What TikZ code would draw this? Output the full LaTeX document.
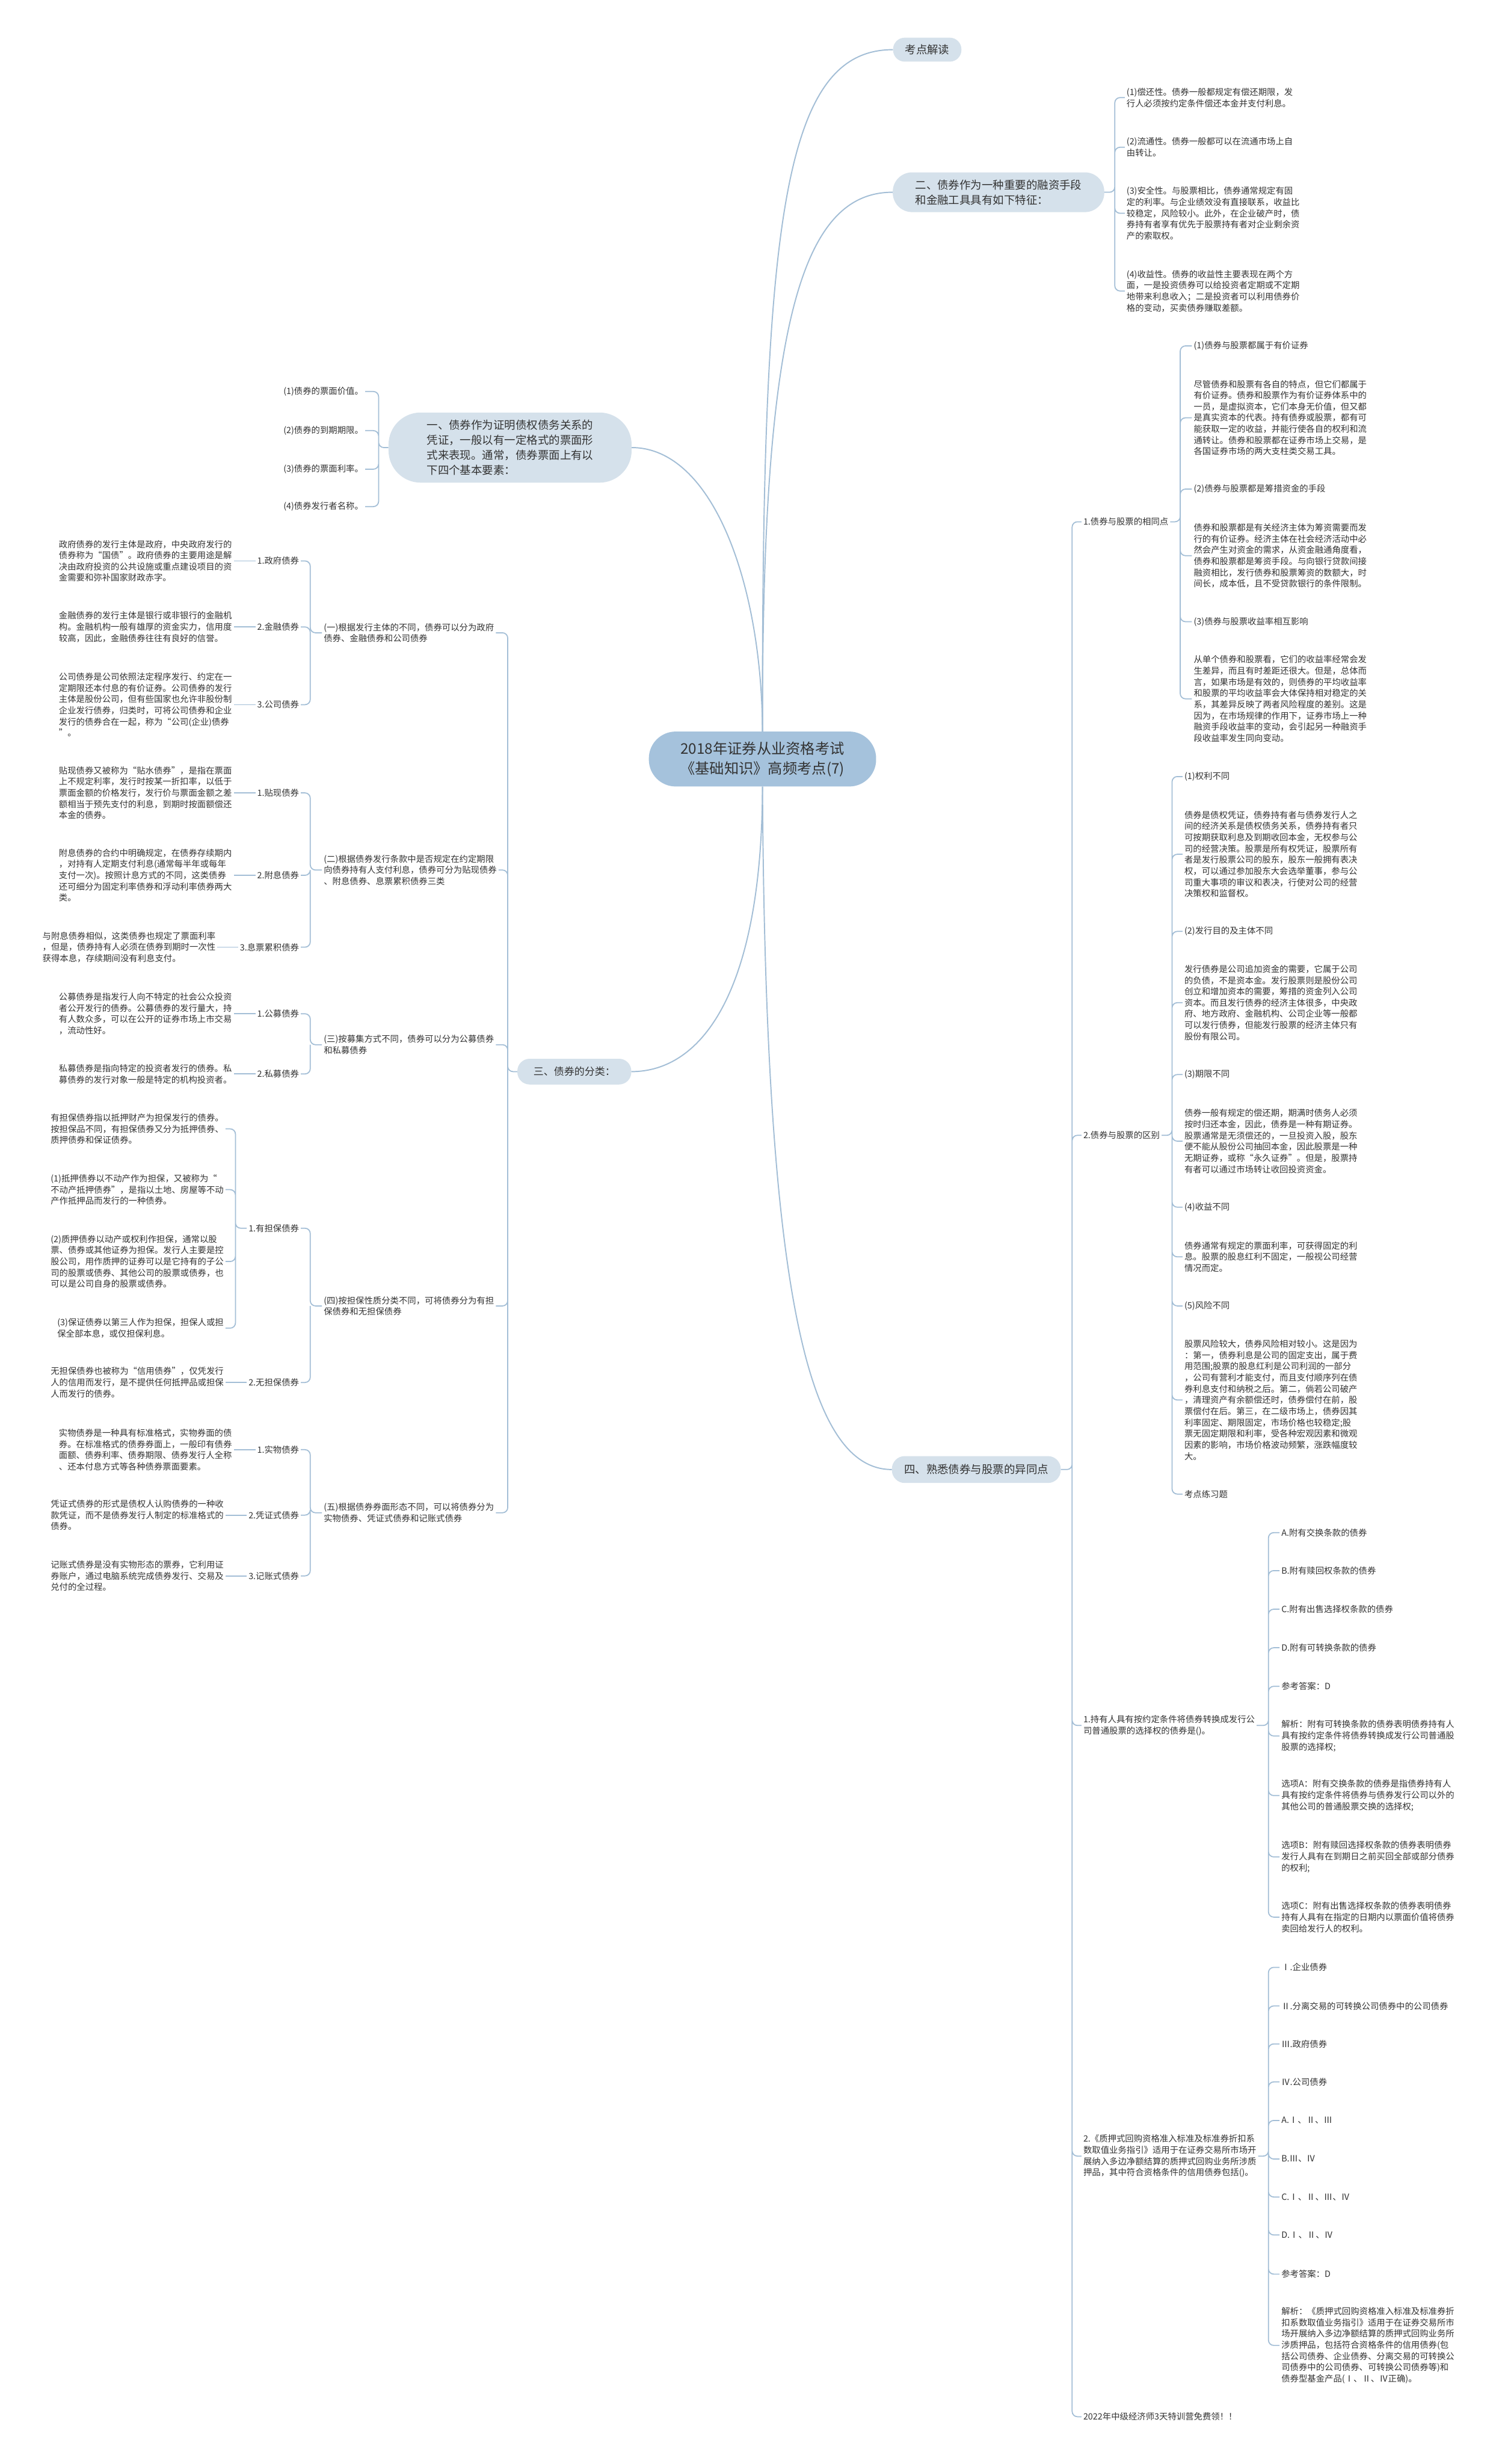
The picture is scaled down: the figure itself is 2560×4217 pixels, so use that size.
\documentclass[tikz,border=0pt]{standalone}
\usepackage{fontspec}
\setmainfont{Noto Sans CJK SC}

\definecolor{linec}{HTML}{A3BED6}
\definecolor{rootc}{HTML}{A5C2DC}
\definecolor{topicc}{HTML}{D5E1EB}
\definecolor{txtc}{HTML}{333333}

\newcommand{\ftxt}{\fontsize{14.8}{19.2}\selectfont}
\newcommand{\ftopic}{\fontsize{19}{26}\selectfont}
\newcommand{\froot}{\fontsize{25}{34}\selectfont}

\begin{document}
\begin{tikzpicture}[x=1pt, y=-1pt,
    every node/.style={text=txtc, inner sep=3pt},
    link/.style={draw=linec, line width=1.8pt, rounded corners=9pt},
    branch/.style={draw=linec, line width=2pt},
    rtext/.style={font=\ftxt, align=left, anchor=west},
    ltext/.style={font=\ftxt, align=left, anchor=east},
    topic/.style={fill=topicc, font=\ftopic, align=left}]

    \fill[white] (0,0) rectangle (2560,4217);
    \useasboundingbox (0,0) rectangle (2560,4217);

    \node[fill=rootc, font=\froot, align=center, minimum width=389, minimum height=94, rounded corners=46] (root) at (1305,1299) {2018年证券从业资格考试\\《基础知识》高频考点(7)};

    \node[topic, minimum width=117, minimum height=41, rounded corners=20] (kd) at (1587,85) {考点解读};
    \node[topic, minimum width=362, minimum height=68, rounded corners=33] (er) at (1709,329) {二、债券作为一种重要的融资手段\\和金融工具具有如下特征：};
    \node[topic, minimum width=416, minimum height=120, rounded corners=55] (yi) at (873,766) {一、债券作为证明债权债务关系的\\凭证，一般以有一定格式的票面形\\式来表现。通常，债券票面上有以\\下四个基本要素：};
    \node[topic, font=\fontsize{17.5}{22}\selectfont, minimum width=195, minimum height=44, rounded corners=21] (san) at (983,1834) {三、债券的分类：};
    \node[topic, minimum width=289, minimum height=46, rounded corners=22] (si) at (1671,2515) {四、熟悉债券与股票的异同点};

    \draw[branch] (root.north) .. controls (1304,380) and (1340,85) .. (kd.west);
    \draw[branch] (root.north) .. controls (1304,560) and (1370,329) .. (er.west);
    \draw[branch] (root.north) .. controls (1304,1000) and (1220,766) .. (yi.east);
    \draw[branch] (root.south) .. controls (1304,1700) and (1200,1834) .. (san.east);
    \draw[branch] (root.south) .. controls (1310,2200) and (1380,2515) .. (si.west);

    % second topic
    \node[rtext] (er1) at (1925,167) {(1)偿还性。债券一般都规定有偿还期限，发\\行人必须按约定条件偿还本金并支付利息。};
    \node[rtext] (er2) at (1925,252) {(2)流通性。债券一般都可以在流通市场上自\\由转让。};
    \node[rtext] (er3) at (1925,365) {(3)安全性。与股票相比，债券通常规定有固\\定的利率。与企业绩效没有直接联系，收益比\\较稳定，风险较小。此外，在企业破产时，债\\券持有者享有优先于股票持有者对企业剩余资\\产的索取权。};
    \node[rtext] (er4) at (1925,498) {(4)收益性。债券的收益性主要表现在两个方\\面，一是投资债券可以给投资者定期或不定期\\地带来利息收入；二是投资者可以利用债券价\\格的变动，买卖债券赚取差额。};
    \coordinate (er-sp) at (1908,329);
    \draw[link] (er.east) -- (er-sp) |- (er1.west) (er-sp) |- (er2.west) (er-sp) |- (er3.west) (er-sp) |- (er4.west);

    % fourth topic
    \node[rtext] (s1) at (1851,893) {1.债券与股票的相同点};
    \node[rtext] (s2) at (1851,1943) {2.债券与股票的区别};
    \node[rtext] (s3) at (1851,2953) {1.持有人具有按约定条件将债券转换成发行公\\司普通股票的选择权的债券是()。};
    \node[rtext] (s4) at (1851,3690) {2.《质押式回购资格准入标准及标准券折扣系\\数取值业务指引》适用于在证券交易所市场开\\展纳入多边净额结算的质押式回购业务所涉质\\押品，其中符合资格条件的信用债券包括()。};
    \node[rtext] (s5) at (1851,4136) {2022年中级经济师3天特训营免费领！！};
    \coordinate (si-sp) at (1835,2515);
    \draw[link] (si.east) -- (si-sp) |- (s1.west) (si-sp) |- (s2.west) (si-sp) |- (s3.west) (si-sp) |- (s4.west) (si-sp) |- (s5.west);

    \node[rtext] (s1a) at (2040,592) {(1)债券与股票都属于有价证券};
    \node[rtext] (s1b) at (2040,715) {尽管债券和股票有各自的特点，但它们都属于\\有价证券。债券和股票作为有价证券体系中的\\一员，是虚拟资本，它们本身无价值，但又都\\是真实资本的代表。持有债券或股票，都有可\\能获取一定的收益，并能行使各自的权利和流\\通转让。债券和股票都在证券市场上交易，是\\各国证券市场的两大支柱类交易工具。};
    \node[rtext] (s1c) at (2040,837) {(2)债券与股票都是筹措资金的手段};
    \node[rtext] (s1d) at (2040,951) {债券和股票都是有关经济主体为筹资需要而发\\行的有价证券。经济主体在社会经济活动中必\\然会产生对资金的需求，从资金融通角度看，\\债券和股票都是筹资手段。与向银行贷款间接\\融资相比，发行债券和股票筹资的数额大，时\\间长，成本低，且不受贷款银行的条件限制。};
    \node[rtext] (s1e) at (2040,1064) {(3)债券与股票收益率相互影响};
    \node[rtext] (s1f) at (2040,1196) {从单个债券和股票看，它们的收益率经常会发\\生差异，而且有时差距还很大。但是，总体而\\言，如果市场是有效的，则债券的平均收益率\\和股票的平均收益率会大体保持相对稳定的关\\系，其差异反映了两者风险程度的差别。这是\\因为，在市场规律的作用下，证券市场上一种\\融资手段收益率的变动，会引起另一种融资手\\段收益率发生同向变动。};
    \coordinate (s1-sp) at (2020,893);
    \draw[link] (s1.east) -- (s1-sp) |- (s1a.west) (s1-sp) |- (s1b.west) (s1-sp) |- (s1c.west) (s1-sp) |- (s1d.west) (s1-sp) |- (s1e.west) (s1-sp) |- (s1f.west);

    \node[rtext] (s2a) at (2024,1329) {(1)权利不同};
    \node[rtext] (s2b) at (2024,1462) {债券是债权凭证，债券持有者与债券发行人之\\间的经济关系是债权债务关系，债券持有者只\\可按期获取利息及到期收回本金，无权参与公\\司的经营决策。股票是所有权凭证，股票所有\\者是发行股票公司的股东，股东一般拥有表决\\权，可以通过参加股东大会选举董事，参与公\\司重大事项的审议和表决，行使对公司的经营\\决策权和监督权。};
    \node[rtext] (s2c) at (2024,1594) {(2)发行目的及主体不同};
    \node[rtext] (s2d) at (2024,1716) {发行债券是公司追加资金的需要，它属于公司\\的负债，不是资本金。发行股票则是股份公司\\创立和增加资本的需要，筹措的资金列入公司\\资本。而且发行债券的经济主体很多，中央政\\府、地方政府、金融机构、公司企业等一般都\\可以发行债券，但能发行股票的经济主体只有\\股份有限公司。};
    \node[rtext] (s2e) at (2024,1839) {(3)期限不同};
    \node[rtext] (s2f) at (2024,1953) {债券一般有规定的偿还期，期满时债务人必须\\按时归还本金，因此，债券是一种有期证券。\\股票通常是无须偿还的，一旦投资入股，股东\\便不能从股份公司抽回本金，因此股票是一种\\无期证券，或称“永久证券”。但是，股票持\\有者可以通过市场转让收回投资资金。};
    \node[rtext] (s2g) at (2024,2066) {(4)收益不同};
    \node[rtext] (s2h) at (2024,2151) {债券通常有规定的票面利率，可获得固定的利\\息。股票的股息红利不固定，一般视公司经营\\情况而定。};
    \node[rtext] (s2i) at (2024,2235) {(5)风险不同};
    \node[rtext] (s2j) at (2024,2396) {股票风险较大，债券风险相对较小。这是因为\\：第一，债券利息是公司的固定支出，属于费\\用范围;股票的股息红利是公司利润的一部分\\，公司有营利才能支付，而且支付顺序列在债\\券利息支付和纳税之后。第二，倘若公司破产\\，清理资产有余额偿还时，债券偿付在前，股\\票偿付在后。第三，在二级市场上，债券因其\\利率固定、期限固定，市场价格也较稳定;股\\票无固定期限和利率，受各种宏观因素和微观\\因素的影响，市场价格波动频繁，涨跌幅度较\\大。};
    \node[rtext] (s2k) at (2024,2557) {考点练习题};
    \coordinate (s2-sp) at (2006,1943);
    \draw[link] (s2.east) -- (s2-sp) |- (s2a.west) (s2-sp) |- (s2b.west) (s2-sp) |- (s2c.west) (s2-sp) |- (s2d.west) (s2-sp) |- (s2e.west) (s2-sp) |- (s2f.west) (s2-sp) |- (s2g.west) (s2-sp) |- (s2h.west) (s2-sp) |- (s2i.west) (s2-sp) |- (s2j.west) (s2-sp) |- (s2k.west);

    \node[rtext] (s3a) at (2190,2623) {A.附有交换条款的债券};
    \node[rtext] (s3b) at (2190,2688) {B.附有赎回权条款的债券};
    \node[rtext] (s3c) at (2190,2754) {C.附有出售选择权条款的债券};
    \node[rtext] (s3d) at (2190,2820) {D.附有可转换条款的债券};
    \node[rtext] (s3e) at (2190,2886) {参考答案：D};
    \node[rtext] (s3f) at (2190,2971) {解析：附有可转换条款的债券表明债券持有人\\具有按约定条件将债券转换成发行公司普通股\\股票的选择权;};
    \node[rtext] (s3g) at (2190,3073) {选项A：附有交换条款的债券是指债券持有人\\具有按约定条件将债券与债券发行公司以外的\\其他公司的普通股票交换的选择权;};
    \node[rtext] (s3h) at (2190,3178) {选项B：附有赎回选择权条款的债券表明债券\\发行人具有在到期日之前买回全部或部分债券\\的权利;};
    \node[rtext] (s3i) at (2190,3281) {选项C：附有出售选择权条款的债券表明债券\\持有人具有在指定的日期内以票面价值将债券\\卖回给发行人的权利。};
    \coordinate (s3-sp) at (2171,2953);
    \draw[link] (s3.east) -- (s3-sp) |- (s3a.west) (s3-sp) |- (s3b.west) (s3-sp) |- (s3c.west) (s3-sp) |- (s3d.west) (s3-sp) |- (s3e.west) (s3-sp) |- (s3f.west) (s3-sp) |- (s3g.west) (s3-sp) |- (s3h.west) (s3-sp) |- (s3i.west);

    \node[rtext] (s4a) at (2190,3367) {Ⅰ.企业债券};
    \node[rtext] (s4b) at (2190,3433) {Ⅱ.分离交易的可转换公司债券中的公司债券};
    \node[rtext] (s4c) at (2190,3498) {Ⅲ.政府债券};
    \node[rtext] (s4d) at (2190,3563) {Ⅳ.公司债券};
    \node[rtext] (s4e) at (2190,3629) {A.Ⅰ、Ⅱ、Ⅲ};
    \node[rtext] (s4f) at (2190,3695) {B.Ⅲ、Ⅳ};
    \node[rtext] (s4g) at (2190,3760) {C.Ⅰ、Ⅱ、Ⅲ、Ⅳ};
    \node[rtext] (s4h) at (2190,3825) {D.Ⅰ、Ⅱ、Ⅳ};
    \node[rtext] (s4i) at (2190,3892) {参考答案：D};
    \node[rtext] (s4j) at (2190,4014) {解析：《质押式回购资格准入标准及标准券折\\扣系数取值业务指引》适用于在证券交易所市\\场开展纳入多边净额结算的质押式回购业务所\\涉质押品，包括符合资格条件的信用债券(包\\括公司债券、企业债券、分离交易的可转换公\\司债券中的公司债券、可转换公司债券等)和\\债券型基金产品(Ⅰ、Ⅱ、Ⅳ正确)。};
    \coordinate (s4-sp) at (2171,3690);
    \draw[link] (s4.east) -- (s4-sp) |- (s4a.west) (s4-sp) |- (s4b.west) (s4-sp) |- (s4c.west) (s4-sp) |- (s4d.west) (s4-sp) |- (s4e.west) (s4-sp) |- (s4f.west) (s4-sp) |- (s4g.west) (s4-sp) |- (s4h.west) (s4-sp) |- (s4i.west) (s4-sp) |- (s4j.west);

    % first topic
    \node[ltext] (yi1) at (625,670) {(1)债券的票面价值。};
    \node[ltext] (yi2) at (625,737) {(2)债券的到期期限。};
    \node[ltext] (yi3) at (625,803) {(3)债券的票面利率。};
    \node[ltext] (yi4) at (625,867) {(4)债券发行者名称。};
    \coordinate (yi-sp) at (648,766);
    \draw[link] (yi.west) -- (yi-sp) |- (yi1.east) (yi-sp) |- (yi2.east) (yi-sp) |- (yi3.east) (yi-sp) |- (yi4.east);

    % third topic
    \node[rtext] (k1) at (551,1083) {(一)根据发行主体的不同，债券可以分为政府\\债券、金融债券和公司债券};
    \node[rtext] (k2) at (551,1489) {(二)根据债券发行条款中是否规定在约定期限\\向债券持有人支付利息，债券可分为贴现债券\\、附息债券、息票累积债券三类};
    \node[rtext] (k3) at (551,1788) {(三)按募集方式不同，债券可以分为公募债券\\和私募债券};
    \node[rtext] (k4) at (551,2235) {(四)按担保性质分类不同，可将债券分为有担\\保债券和无担保债券};
    \node[rtext] (k5) at (551,2589) {(五)根据债券券面形态不同，可以将债券分为\\实物债券、凭证式债券和记账式债券};
    \coordinate (san-sp) at (869,1834);
    \draw[link] (san.west) -- (san-sp) |- (k1.east) (san-sp) |- (k2.east) (san-sp) |- (k3.east) (san-sp) |- (k4.east) (san-sp) |- (k5.east);

    \node[ltext] (k1a) at (515,960) {1.政府债券};
    \node[ltext] (k1b) at (515,1073) {2.金融债券};
    \node[ltext] (k1c) at (515,1206) {3.公司债券};
    \node[ltext] (k1ap) at (400,960) {政府债券的发行主体是政府，中央政府发行的\\债券称为“国债”。政府债券的主要用途是解\\决由政府投资的公共设施或重点建设项目的资\\金需要和弥补国家财政赤字。};
    \node[ltext] (k1bp) at (400,1073) {金融债券的发行主体是银行或非银行的金融机\\构。金融机构一般有雄厚的资金实力，信用度\\较高，因此，金融债券往往有良好的信誉。};
    \node[ltext] (k1cp) at (400,1206) {公司债券是公司依照法定程序发行、约定在一\\定期限还本付息的有价证券。公司债券的发行\\主体是股份公司，但有些国家也允许非股份制\\企业发行债券，归类时，可将公司债券和企业\\发行的债券合在一起，称为“公司(企业)债券\\”。};
    \coordinate (k1-sp) at (531,1083);
    \draw[link] (k1.west) -- (k1-sp) |- (k1a.east) (k1-sp) |- (k1b.east) (k1-sp) |- (k1c.east);
    \draw[link] (k1a.west) -- (k1ap.east) (k1b.west) -- (k1bp.east) (k1c.west) -- (k1cp.east);

    \node[ltext] (k2a) at (515,1357) {1.贴现债券};
    \node[ltext] (k2b) at (515,1498) {2.附息债券};
    \node[ltext] (k2c) at (515,1621) {3.息票累积债券};
    \node[ltext] (k2ap) at (400,1357) {贴现债券又被称为“贴水债券”，是指在票面\\上不规定利率，发行时按某一折扣率，以低于\\票面金额的价格发行，发行价与票面金额之差\\额相当于预先支付的利息，到期时按面额偿还\\本金的债券。};
    \node[ltext] (k2bp) at (400,1498) {附息债券的合约中明确规定，在债券存续期内\\，对持有人定期支付利息(通常每半年或每年\\支付一次)。按照计息方式的不同，这类债券\\还可细分为固定利率债券和浮动利率债券两大\\类。};
    \node[ltext] (k2cp) at (372,1621) {与附息债券相似，这类债券也规定了票面利率\\，但是，债券持有人必须在债券到期时一次性\\获得本息，存续期间没有利息支付。};
    \coordinate (k2-sp) at (531,1489);
    \draw[link] (k2.west) -- (k2-sp) |- (k2a.east) (k2-sp) |- (k2b.east) (k2-sp) |- (k2c.east);
    \draw[link] (k2a.west) -- (k2ap.east) (k2b.west) -- (k2bp.east) (k2c.west) -- (k2cp.east);

    \node[ltext] (k3a) at (515,1735) {1.公募债券};
    \node[ltext] (k3b) at (515,1838) {2.私募债券};
    \node[ltext] (k3ap) at (400,1735) {公募债券是指发行人向不特定的社会公众投资\\者公开发行的债券。公募债券的发行量大，持\\有人数众多，可以在公开的证券市场上市交易\\，流动性好。};
    \node[ltext] (k3bp) at (400,1838) {私募债券是指向特定的投资者发行的债券。私\\募债券的发行对象一般是特定的机构投资者。};
    \coordinate (k3-sp) at (531,1788);
    \draw[link] (k3.west) -- (k3-sp) |- (k3a.east) (k3-sp) |- (k3b.east);
    \draw[link] (k3a.west) -- (k3ap.east) (k3b.west) -- (k3bp.east);

    \node[ltext] (k4a) at (515,2102) {1.有担保债券};
    \node[ltext] (k4b) at (515,2366) {2.无担保债券};
    \node[ltext] (k4a1) at (386,1932) {有担保债券指以抵押财产为担保发行的债券。\\按担保品不同，有担保债券又分为抵押债券、\\质押债券和保证债券。};
    \node[ltext] (k4a2) at (386,2036) {(1)抵押债券以不动产作为担保，又被称为“\\不动产抵押债券”，是指以土地、房屋等不动\\产作抵押品而发行的一种债券。};
    \node[ltext] (k4a3) at (386,2159) {(2)质押债券以动产或权利作担保，通常以股\\票、债券或其他证券为担保。发行人主要是控\\股公司，用作质押的证券可以是它持有的子公\\司的股票或债券、其他公司的股票或债券，也\\可以是公司自身的股票或债券。};
    \node[ltext] (k4a4) at (386,2273) {(3)保证债券以第三人作为担保，担保人或担\\保全部本息，或仅担保利息。};
    \node[ltext] (k4bp) at (386,2366) {无担保债券也被称为“信用债券”，仅凭发行\\人的信用而发行，是不提供任何抵押品或担保\\人而发行的债券。};
    \coordinate (k4-sp) at (531,2235);
    \coordinate (k4a-sp) at (403,2102);
    \draw[link] (k4.west) -- (k4-sp) |- (k4a.east) (k4-sp) |- (k4b.east);
    \draw[link] (k4a.west) -- (k4a-sp) |- (k4a1.east) (k4a-sp) |- (k4a2.east) (k4a-sp) |- (k4a3.east) (k4a-sp) |- (k4a4.east);
    \draw[link] (k4b.west) -- (k4bp.east);

    \node[ltext] (k5a) at (515,2481) {1.实物债券};
    \node[ltext] (k5b) at (515,2593) {2.凭证式债券};
    \node[ltext] (k5c) at (515,2697) {3.记账式债券};
    \node[ltext] (k5ap) at (400,2481) {实物债券是一种具有标准格式，实物券面的债\\券。在标准格式的债券券面上，一般印有债券\\面额、债券利率、债券期限、债券发行人全称\\、还本付息方式等各种债券票面要素。};
    \node[ltext] (k5bp) at (386,2593) {凭证式债券的形式是债权人认购债券的一种收\\款凭证，而不是债券发行人制定的标准格式的\\债券。};
    \node[ltext] (k5cp) at (386,2697) {记账式债券是没有实物形态的票券，它利用证\\券账户，通过电脑系统完成债券发行、交易及\\兑付的全过程。};
    \coordinate (k5-sp) at (531,2589);
    \draw[link] (k5.west) -- (k5-sp) |- (k5a.east) (k5-sp) |- (k5b.east) (k5-sp) |- (k5c.east);
    \draw[link] (k5a.west) -- (k5ap.east) (k5b.west) -- (k5bp.east) (k5c.west) -- (k5cp.east);

\end{tikzpicture}
\end{document}
